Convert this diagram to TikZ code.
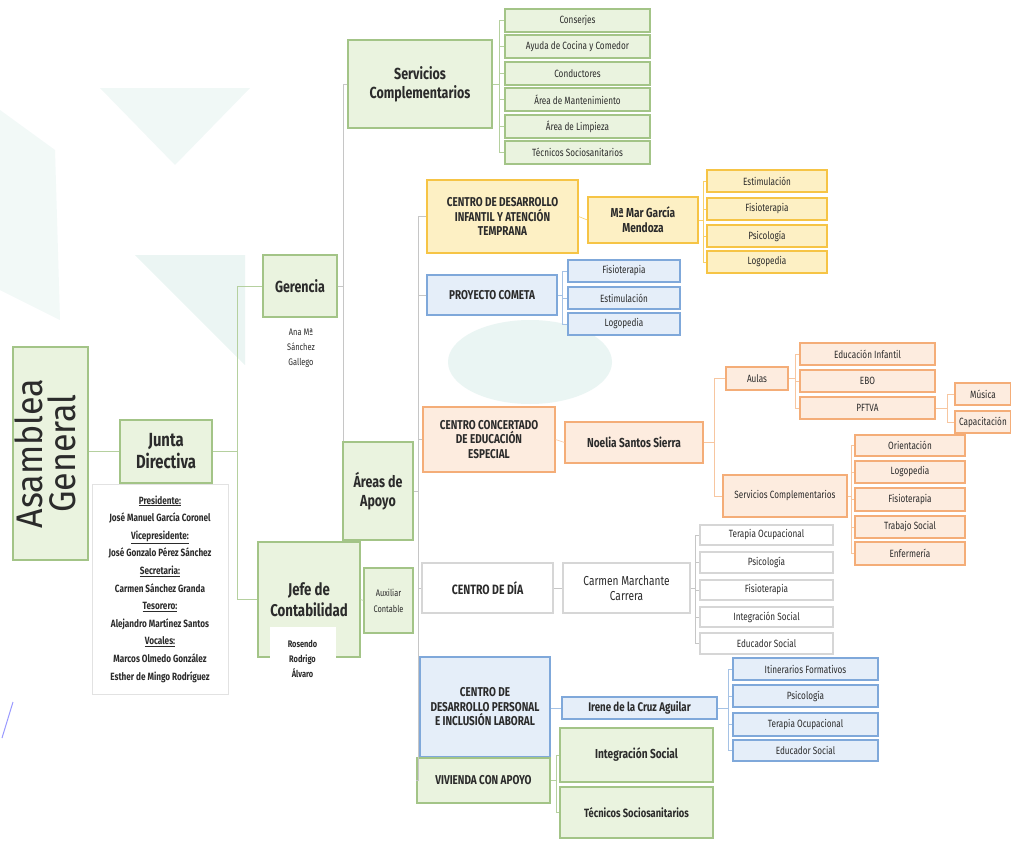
\documentclass[tikz,border=0pt]{standalone}
\usepackage{fontspec}
\setmainfont{Fira Sans}[FakeStretch=0.78]
\newfontfamily\widefont{Fira Sans}[FakeStretch=0.92]
\usetikzlibrary{shadows}
\definecolor{txt}{HTML}{2B2B2B}
\definecolor{grD}{HTML}{A3C487}
\definecolor{grF}{HTML}{EAF3DF}
\definecolor{yeD}{HTML}{F6C445}
\definecolor{yeF}{HTML}{FDF0C4}
\definecolor{blD}{HTML}{7FA8DA}
\definecolor{blF}{HTML}{E5EEF9}
\definecolor{orD}{HTML}{F4AD78}
\definecolor{orF}{HTML}{FDECDF}
\definecolor{gyD}{HTML}{D6D6D6}
\definecolor{wm}{HTML}{5FB3A3}
\newcommand\bx[7]{\node[#2, minimum width={(#5)-(#3)}, minimum height={(#6)-(#4)}] (#1) at ({((#3)+(#5))/2},{((#4)+(#6))/2}) {#7};}
\newcommand\fan[6]{\coordinate (fanv) at (#2,0);
  \draw[#6] (#1.east) -- (#1.east -| fanv);
  \draw[#6] (fanv |- #3.west) -- (fanv |- #4.west);
  \foreach \t in {#5}{\draw[#6] (fanv |- \t.west) -- (\t.west);}}
\begin{document}
\begin{tikzpicture}[x=1pt,y=-1pt,
  base/.style={rectangle, draw, line width=1.1pt, align=center, inner sep=1pt, text=txt,
    general shadow={fill=black!18, shadow xshift=1.2pt, shadow yshift=-1.4pt}},
  gbox/.style={base, draw=grD, fill=grF},
  ybox/.style={base, draw=yeD, fill=yeF},
  bbox/.style={base, draw=blD, fill=blF},
  obox/.style={base, draw=orD, fill=orF},
  wbox/.style={rectangle, draw=gyD!70, line width=0.6pt, fill=white, align=center, inner sep=1pt, text=txt},
  qbox/.style={base, draw=gyD, fill=white},
  big/.style={font=\bfseries\fontsize{16}{19}\selectfont},
  mid/.style={font=\bfseries\fontsize{13}{15}\selectfont},
  cen/.style={font=\bfseries\fontsize{12.8}{14.5}\selectfont},
  sml/.style={font=\fontsize{10.5}{12}\selectfont},
  conn/.style={draw=gray!45, line width=0.6pt},
  oconn/.style={draw=orD!70, line width=0.6pt},
  bconn/.style={draw=blD!70, line width=0.6pt},
  yconn/.style={draw=yeD!80, line width=0.6pt},
  gconn/.style={draw=grD!80, line width=0.6pt}]
\useasboundingbox (0,0) rectangle (1011,843);
\fill[white] (0,0) rectangle (1011,843);
% watermark
\fill[wm, opacity=0.09] (100,88) -- (250,88) -- (175,165) -- cycle;
\fill[wm, opacity=0.08] (0,110) -- (55,150) -- (60,320) -- (0,290) -- cycle;
\fill[wm, opacity=0.12] (135,255) -- (245,255) -- (245,365) -- cycle;
\fill[wm, opacity=0.13] (530,362) ellipse [x radius=82, y radius=42];
% left part
\bx{asam}{gbox}{13}{347}{88}{560}{\rotatebox{90}{\widefont\fontsize{37}{37}\selectfont\begin{tabular}{@{}c@{}}Asamblea\\[-6pt]General\end{tabular}}}
\bx{junta}{gbox, font=\bfseries\fontsize{19}{22}\selectfont}{120}{420}{212}{483}{Junta\\Directiva}
\bx{jlist}{wbox, font=\bfseries\fontsize{10.5}{17.6}\selectfont}{92}{484}{228}{694}{\underline{Presidente:}\\José Manuel García Coronel\\\underline{Vicepresidente:}\\José Gonzalo Pérez Sánchez\\\underline{Secretaria:}\\Carmen Sánchez Granda\\\underline{Tesorero:}\\Alejandro Martínez Santos\\\underline{Vocales:}\\Marcos Olmedo González\\Esther de Mingo Rodríguez}
\bx{ger}{gbox, big}{263}{255}{337}{317}{Gerencia}
\bx{gsub}{wbox, draw=white, font=\fontsize{9.5}{15}\selectfont}{270}{318}{332}{378}{Ana Mª\\Sánchez\\Gallego}
\bx{jefe}{gbox, font=\bfseries\fontsize{17}{21}\selectfont}{258}{542}{360}{657}{Jefe de\\Contabilidad}
\bx{jsub}{wbox, draw=white, font=\bfseries\fontsize{9.5}{15}\selectfont}{270}{627}{335}{690}{Rosendo\\Rodrigo\\Álvaro}
\bx{aux}{gbox, font=\fontsize{9.5}{16}\selectfont}{364}{568}{413}{633}{Auxiliar\\Contable}
\bx{areas}{gbox, big}{343}{442}{413}{540}{Áreas de\\Apoyo}
\bx{serv}{gbox, big}{348}{40}{492}{128}{Servicios\\Complementarios}
% services list
\bx{s1}{gbox, sml}{505}{9}{650}{32}{Conserjes}
\bx{s2}{gbox, sml}{505}{35}{650}{58}{Ayuda de Cocina y Comedor}
\bx{s3}{gbox, sml}{505}{62}{650}{85}{Conductores}
\bx{s4}{gbox, sml}{505}{88}{650}{111}{Área de Mantenimiento}
\bx{s5}{gbox, sml}{505}{115}{650}{138}{Área de Limpieza}
\bx{s6}{gbox, sml}{505}{141}{650}{164}{Técnicos Sociosanitarios}
% centres
\bx{cdi}{ybox, cen}{427}{180}{578}{253}{CENTRO DE DESARROLLO\\INFANTIL Y ATENCIÓN\\TEMPRANA}
\bx{mar}{ybox, mid}{588}{197}{698}{243}{Mª Mar García\\Mendoza}
\bx{y1}{ybox, sml}{707}{170}{827}{192}{Estimulación}
\bx{y2}{ybox, sml}{707}{198}{827}{220}{Fisioterapia}
\bx{y3}{ybox, sml}{707}{225}{827}{247}{Psicología}
\bx{y4}{ybox, sml}{707}{251}{827}{273}{Logopedia}
\bx{com}{bbox, cen}{427}{275}{557}{315}{PROYECTO COMETA}
\bx{b1}{bbox, sml}{568}{260}{680}{282}{Fisioterapia}
\bx{b2}{bbox, sml}{568}{287}{680}{309}{Estimulación}
\bx{b3}{bbox, sml}{568}{313}{680}{335}{Logopedia}
\bx{cce}{obox, cen}{423}{407}{555}{472}{CENTRO CONCERTADO\\DE EDUCACIÓN\\ESPECIAL}
\bx{noe}{obox, mid}{565}{422}{703}{463}{Noelia Santos Sierra}
\bx{aul}{obox, sml}{726}{367}{788}{390}{Aulas}
\bx{o1}{obox, sml}{800}{343}{935}{365}{Educación Infantil}
\bx{o2}{obox, sml}{800}{370}{935}{392}{EBO}
\bx{o3}{obox, sml}{800}{397}{935}{419}{PFTVA}
\bx{o4}{obox, sml}{955}{383}{1011}{405}{Música}
\bx{o5}{obox, sml}{955}{411}{1011}{433}{Capacitación}
\bx{osc}{obox, sml}{723}{475}{847}{517}{Servicios Complementarios}
\bx{p1}{obox, sml}{855}{435}{965}{456}{Orientación}
\bx{p2}{obox, sml}{855}{461}{965}{483}{Logopedia}
\bx{p3}{obox, sml}{855}{488}{965}{511}{Fisioterapia}
\bx{p4}{obox, sml}{855}{516}{965}{538}{Trabajo Social}
\bx{p5}{obox, sml}{855}{542}{965}{565}{Enfermería}
\bx{cdd}{qbox, font=\bfseries\fontsize{13.5}{15}\selectfont}{422}{563}{553}{613}{CENTRO DE DÍA}
\bx{car}{qbox, font=\fontsize{13}{15}\selectfont}{563}{563}{690}{613}{Carmen Marchante\\Carrera}
\bx{w1}{qbox, sml}{700}{525}{833}{545}{Terapia Ocupacional}
\bx{w2}{qbox, sml}{700}{552}{833}{573}{Psicología}
\bx{w3}{qbox, sml}{700}{580}{833}{600}{Fisioterapia}
\bx{w4}{qbox, sml}{700}{607}{833}{627}{Integración Social}
\bx{w5}{qbox, sml}{700}{633}{833}{654}{Educador Social}
\bx{cdp}{bbox, cen}{420}{657}{550}{757}{CENTRO DE\\DESARROLLO PERSONAL\\E INCLUSIÓN LABORAL}
\bx{ire}{bbox, font=\bfseries\fontsize{12.5}{14}\selectfont}{562}{697}{717}{719}{Irene de la Cruz Aguilar}
\bx{c1}{bbox, sml}{733}{658}{878}{680}{Itinerarios Formativos}
\bx{c2}{bbox, sml}{733}{685}{878}{707}{Psicología}
\bx{c3}{bbox, sml}{733}{713}{878}{736}{Terapia Ocupacional}
\bx{c4}{bbox, sml}{733}{740}{878}{761}{Educador Social}
\bx{viv}{gbox, cen}{417}{758}{550}{803}{VIVIENDA CON APOYO}
\bx{v1}{gbox, mid}{560}{728}{713}{782}{Integración Social}
\bx{v2}{gbox, font=\bfseries\fontsize{12}{14}\selectfont}{560}{787}{713}{838}{Técnicos Sociosanitarios}
% connectors
\draw[gconn] (asam.east |- junta.west) -- (junta.west);
\fan{junta}{237}{ger}{jefe}{ger,jefe}{gconn}
\coordinate (t2) at (343,0);
\draw[conn] (ger.east) -- (ger.east -| t2);
\draw[conn] (serv.west) -- (serv.west -| t2) -- (t2 |- areas.north);
\draw[gconn] (jefe.east) -- (aux.west);
\fan{serv}{499}{s1}{s6}{s1,s2,s3,s4,s5,s6}{gconn}
\fan{areas}{418}{cdi}{viv}{cdi,com,cce,cdd,cdp,viv}{conn}
\draw[yconn] (cdi.east) -- (mar.west);
\fan{mar}{703}{y1}{y4}{y1,y2,y3,y4}{yconn}
\fan{com}{562}{b1}{b3}{b1,b2,b3}{bconn}
\draw[oconn] (cce.east) -- (noe.west);
\fan{noe}{714}{aul}{osc}{aul,osc}{oconn}
\fan{aul}{795}{o1}{o3}{o1,o2,o3}{oconn}
\fan{o3}{947}{o4}{o5}{o4,o5}{oconn}
\fan{osc}{851}{p1}{p5}{p1,p2,p3,p4,p5}{oconn}
\draw[conn] (cdd.east) -- (car.west);
\fan{car}{695}{w1}{w5}{w1,w2,w3,w4,w5}{conn}
\draw[bconn] (cdp.east |- ire.west) -- (ire.west);
\fan{ire}{728}{c1}{c4}{c1,c2,c3,c4}{bconn}
\fan{viv}{556}{v1}{v2}{v1,v2}{gconn}
\draw[blue!40, line width=1pt] (2,738) -- (13,702);
\end{tikzpicture}
\end{document}
